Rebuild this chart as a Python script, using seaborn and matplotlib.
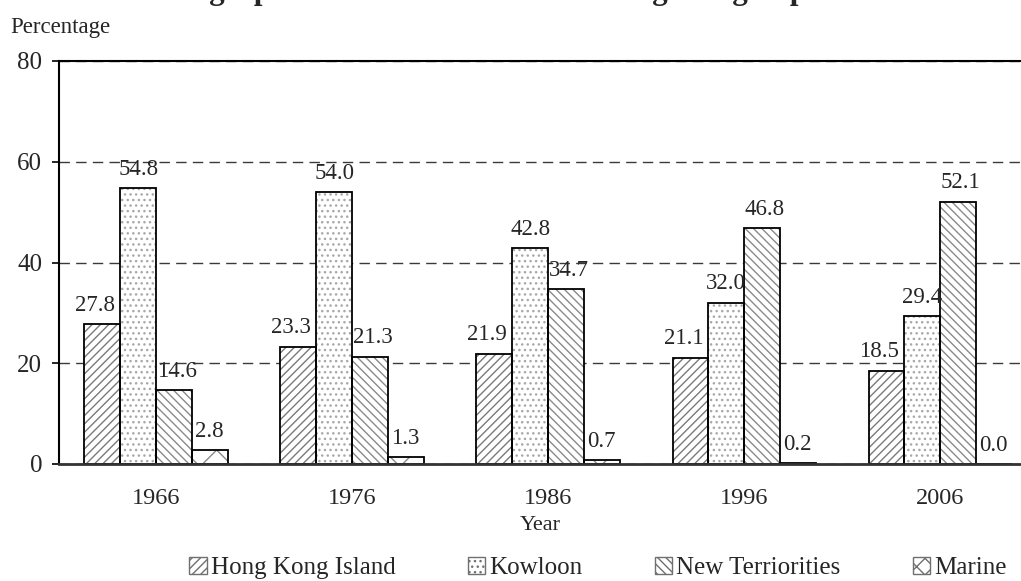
import matplotlib
matplotlib.use("Agg")
import matplotlib.pyplot as plt
import seaborn as sns
import pandas as pd
from matplotlib.patches import Rectangle, Patch

# data
years = ["1966", "1976", "1986", "1996", "2006"]
regions = ["Hong Kong Island", "Kowloon", "New Terriorities", "Marine"]
hk_island = [27.8, 23.3, 21.9, 21.1, 18.5]
kowloon = [54.8, 54.0, 42.8, 32.0, 29.4]
new_territories = [14.6, 21.3, 34.7, 46.8, 52.1]
marine = [2.8, 1.3, 0.7, 0.2, 0.0]
y_ticks = [0, 20, 40, 60, 80]

hatches = ["////", "...", "\\\\\\\\", "x"]
legend_hatches = ["////", "...", "\\\\\\\\", "xx"]
hatch_colors = ["#7a7a7a", "#a8a8a8", "#8a8a8a", "#8a8a8a"]

df = pd.DataFrame({
    "Year": years * 4,
    "Region": [r for r in regions for _ in years],
    "Percentage": hk_island + kowloon + new_territories + marine,
})

sns.set_theme(style="white")
plt.rcParams["font.family"] = ["Liberation Serif", "DejaVu Serif"]
plt.rcParams["hatch.linewidth"] = 1.0

fig = plt.figure(figsize=(10.21, 5.81), dpi=100)
ax = fig.add_axes([59 / 1021, 1 - 464 / 581, 1 - 59 / 1021, (464 - 61) / 581])

sns.barplot(data=df, x="Year", y="Percentage", hue="Region",
            hue_order=regions, palette=["white"] * 4, width=0.73, gap=0,
            linewidth=0, legend=False, ax=ax)

# hatch the bars (hatch follows edge colour) and draw black outlines on top
for i, container in enumerate(ax.containers):
    for bar in container:
        bar.set_edgecolor(hatch_colors[i])
        bar.set_hatch(hatches[i])
        ax.add_patch(Rectangle(bar.get_xy(), bar.get_width(), bar.get_height(),
                               fill=False, edgecolor="black", linewidth=1.3,
                               zorder=bar.get_zorder() + 0.1))
    labels = ax.bar_label(container, fmt="%.1f", padding=6, fontsize=16.5,
                          zorder=5)
    if i == 0:
        for t in labels:
            t.xyann = (-5, 6)
    if i == 2:
        for t in labels:
            t.xyann = (2, 6)

ax.set_ylim(0, 80)
ax.set_yticks(y_ticks)
ax.set_xlim(-0.495, 4.413)
ax.set_axisbelow(True)
ax.yaxis.grid(True, linestyle=(0, (7.5, 4.5)), color="#3a3a3a", linewidth=1.0)
ax.xaxis.grid(False)

for side in ["top", "left"]:
    ax.spines[side].set_visible(True)
    ax.spines[side].set_color("black")
    ax.spines[side].set_linewidth(1.5)
ax.spines["bottom"].set_color("#333333")
ax.spines["bottom"].set_linewidth(2)
ax.spines["right"].set_visible(False)

ax.tick_params(axis="y", left=True, direction="out", length=5, width=1.2,
               color="black", labelsize=18, pad=7)
ax.tick_params(axis="x", bottom=False, length=0, labelsize=17.5, pad=17)

ax.set_ylabel("")
ax.set_xlabel("Year", fontsize=16, labelpad=5)

fig.text(10 / 1021, 1 - 27 / 581, "Percentage", fontsize=16.5,
         ha="left", va="center")

# title sits above the canvas, only its descenders are visible
fig.text(528 / 1021, 1 + 1 / 581,
         "Geographical Distribution of the Hong Kong Population",
         fontsize=22.3, fontweight="bold", ha="center", va="baseline")

handles = [Patch(facecolor="white", edgecolor="#707070",
                 hatch=legend_hatches[i], linewidth=1.0)
           for i in range(len(regions))]
fig.legend(handles, regions, loc="center", ncol=4,
           bbox_to_anchor=(598 / 1021, 1 - 568 / 581), frameon=False,
           fontsize=18, handlelength=0.7, handleheight=0.7,
           handletextpad=0.15, columnspacing=2.9)

fig.savefig("out.png", dpi=100)
